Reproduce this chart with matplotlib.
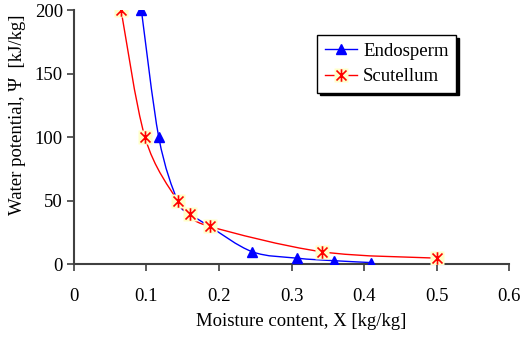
import numpy as np
import matplotlib
matplotlib.use("Agg")
import matplotlib.pyplot as plt
from matplotlib.path import Path
from matplotlib.patches import PathPatch
from matplotlib.lines import Line2D
from matplotlib.legend_handler import HandlerTuple

# ── data ────────────────────────────────────────────────────────────────────
endo_x = [0.093, 0.117, 0.143, 0.160, 0.187, 0.246, 0.307, 0.358, 0.410]
endo_y = [200, 100, 50, 40, 30, 10, 5, 3, 1.5]
scut_x = [0.065, 0.098, 0.143, 0.160, 0.187, 0.342, 0.500]
scut_y = [200, 100, 50, 40, 30, 10, 5]

x_ticks = [0, 0.1, 0.2, 0.3, 0.4, 0.5, 0.6]
x_ticklabels = ["0", "0.1", "0.2", "0.3", "0.4", "0.5", "0.6"]
y_ticks = [0, 50, 100, 150, 200]

BLUE = "#0000FF"
RED = "#FF0000"
FILL = "#FFFFC8"
FS = 13.5

plt.rcParams["font.family"] = ["Liberation Serif", "DejaVu Serif"]

# star marker: an x with a vertical bar (Excel style)
STAR = Path([(-1, -1), (1, 1), (-1, 1), (1, -1), (0, -1.25), (0, 1.25)],
            [Path.MOVETO, Path.LINETO, Path.MOVETO, Path.LINETO,
             Path.MOVETO, Path.LINETO])


def smooth_path(x, y):
    """Excel-like smoothed line: cubic Bezier segments (Catmull-Rom tangents)."""
    p = np.column_stack([x, y]).astype(float)
    verts = [p[0]]
    codes = [Path.MOVETO]
    n = len(p)
    for i in range(n - 1):
        p0 = p[i - 1] if i > 0 else p[i]
        p3 = p[i + 2] if i + 2 < n else p[i + 1]
        c1 = p[i] + (p[i + 1] - p0) / 6.0
        c2 = p[i + 1] - (p3 - p[i]) / 6.0
        verts += [c1, c2, p[i + 1]]
        codes += [Path.CURVE4] * 3
    return Path(verts, codes)


fig = plt.figure(figsize=(5.24, 3.38), dpi=100)
ax = fig.add_axes([0.1412, 0.2175, 0.8302, 0.7515])

ax.add_patch(PathPatch(smooth_path(endo_x, endo_y), fill=False,
                       edgecolor=BLUE, lw=1.0, zorder=2))
ax.plot(endo_x, endo_y, ls="none", marker="^", ms=7, color=BLUE, zorder=3)

ax.add_patch(PathPatch(smooth_path(scut_x, scut_y), fill=False,
                       edgecolor=RED, lw=1.0, zorder=4))
ax.plot(scut_x, scut_y, ls="none", marker="s", ms=10, mfc=FILL, mec="none", zorder=5)
ax.plot(scut_x, scut_y, ls="none", marker=STAR, ms=9, mec=RED, mew=1.2, zorder=6)

ax.set_xlim(0, 0.6)
ax.set_ylim(0, 200)
ax.set_xticks(x_ticks)
ax.set_xticklabels(x_ticklabels)
ax.set_yticks(y_ticks)
ax.tick_params(axis="both", labelsize=FS, length=5, width=1.2, color="#404040",
               direction="out")
ax.tick_params(axis="x", pad=12)
ax.tick_params(axis="y", pad=3)
for s in ("top", "right"):
    ax.spines[s].set_visible(False)
for s in ("left", "bottom"):
    ax.spines[s].set_color("#404040")
    ax.spines[s].set_linewidth(1.5)

ax.set_xlabel("Moisture content, X [kg/kg]", fontsize=FS)
ax.set_ylabel("Water potential, \u03a8  [kJ/kg]", fontsize=FS)
ax.xaxis.set_label_coords(0.523, -0.19)
ax.yaxis.set_label_coords(-0.11, 0.589)

# legend proxies
h_endo = Line2D([], [], color=BLUE, lw=1.0, marker="^", ms=7)
h_line = Line2D([], [], color=RED, lw=1.0)
h_fill = Line2D([], [], ls="none", marker="s", ms=10, mfc=FILL, mec="none")
h_star = Line2D([], [], ls="none", marker=STAR, ms=9, mec=RED, mew=1.2)
leg = ax.legend([h_endo, (h_line, h_fill, h_star)], ["Endosperm", "Scutellum"],
                handler_map={tuple: HandlerTuple(ndivide=1, pad=0)},
                loc="upper left", bbox_to_anchor=(0.559, 0.9035),
                fontsize=FS, frameon=True, fancybox=False,
                shadow={"color": "black", "alpha": 1.0},
                borderpad=0.4, handlelength=1.75, labelspacing=0.45,
                handletextpad=0.3, borderaxespad=0)
leg.get_frame().set_edgecolor("black")
leg.get_frame().set_linewidth(1.0)

fig.savefig("out.png", dpi=100)
